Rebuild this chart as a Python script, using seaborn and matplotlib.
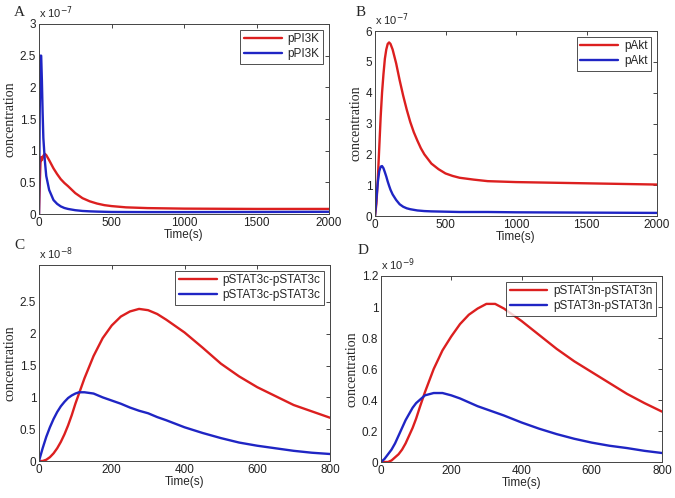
"""
four-panel concentration time courses, matlab look
"""

import matplotlib as mpl
import matplotlib.pyplot as plt
import numpy as np
import pandas as pd
import seaborn as sns

sns.set_style("white")
mpl.rcParams["font.family"] = ["Liberation Sans", "DejaVu Sans"]
mpl.rcParams["xtick.direction"] = "in"
mpl.rcParams["ytick.direction"] = "in"

RED = "#dc1f1f"
BLUE = "#1f25c4"

# panel A: pPI3K (x 1e-7)
a_t = [0, 5, 10, 15, 20, 25, 30, 40, 50, 70, 100, 125, 150, 175, 200, 250, 300, 350, 400, 450, 500, 600, 750, 1000, 1500, 2000]
a_red = [0, 0.45, 0.8, 0.9, 0.85, 0.88, 0.92, 0.95, 0.93, 0.85, 0.72, 0.63, 0.55, 0.49, 0.44, 0.33, 0.25, 0.2, 0.165, 0.14, 0.125, 0.105, 0.093, 0.085, 0.08, 0.08]
a_blue = [0, 1.6, 2.5, 2.5, 2.1, 1.6, 1.2, 0.85, 0.6, 0.38, 0.22, 0.16, 0.12, 0.095, 0.08, 0.06, 0.048, 0.042, 0.038, 0.035, 0.032, 0.031, 0.03, 0.03, 0.032, 0.035]

# panel B: pAkt (x 1e-7)
b_t = [0, 10, 20, 30, 40, 50, 60, 70, 80, 90, 100, 110, 125, 150, 175, 200, 225, 250, 275, 300, 325, 350, 400, 450, 500, 550, 600, 700, 800, 1000, 1500, 2000]
b_red = [0, 0.4, 1.2, 2.2, 3.2, 4.0, 4.6, 5.1, 5.4, 5.58, 5.63, 5.58, 5.4, 4.95, 4.4, 3.9, 3.45, 3.05, 2.72, 2.45, 2.2, 2.0, 1.7, 1.52, 1.38, 1.3, 1.24, 1.18, 1.13, 1.1, 1.06, 1.02]
b_blue = [0, 0.55, 1.1, 1.45, 1.6, 1.62, 1.55, 1.42, 1.28, 1.12, 0.98, 0.85, 0.7, 0.52, 0.38, 0.3, 0.25, 0.22, 0.2, 0.18, 0.17, 0.16, 0.15, 0.145, 0.14, 0.135, 0.13, 0.13, 0.13, 0.12, 0.11, 0.1]

# panel C: pSTAT3c-pSTAT3c (x 1e-8)
c_t = [0, 10, 20, 30, 40, 50, 60, 70, 80, 90, 100, 110, 125, 150, 175, 200, 225, 250, 275, 300, 325, 350, 400, 450, 500, 550, 600, 650, 700, 750, 800]
c_red = [0, 0, 0.02, 0.06, 0.12, 0.2, 0.3, 0.42, 0.56, 0.72, 0.9, 1.06, 1.3, 1.65, 1.93, 2.13, 2.27, 2.35, 2.39, 2.37, 2.31, 2.22, 2.02, 1.78, 1.53, 1.33, 1.16, 1.02, 0.88, 0.78, 0.68]
c_blue = [0, 0.2, 0.38, 0.53, 0.66, 0.77, 0.86, 0.93, 0.99, 1.03, 1.06, 1.08, 1.08, 1.06, 1.0, 0.95, 0.9, 0.84, 0.79, 0.75, 0.69, 0.64, 0.53, 0.44, 0.36, 0.29, 0.24, 0.2, 0.16, 0.13, 0.11]

# panel D: pSTAT3n-pSTAT3n (x 1e-9)
d_t = [0, 10, 20, 30, 40, 50, 60, 70, 80, 90, 100, 110, 125, 150, 175, 200, 225, 250, 275, 300, 325, 350, 400, 450, 500, 550, 600, 650, 700, 750, 800]
d_red = [0, 0, 0, 0.01, 0.03, 0.05, 0.08, 0.12, 0.17, 0.22, 0.28, 0.35, 0.45, 0.6, 0.72, 0.81, 0.89, 0.95, 0.99, 1.02, 1.02, 0.99, 0.91, 0.82, 0.73, 0.65, 0.58, 0.51, 0.44, 0.38, 0.325]
d_blue = [0, 0.02, 0.05, 0.08, 0.12, 0.17, 0.22, 0.27, 0.31, 0.35, 0.38, 0.4, 0.43, 0.445, 0.445, 0.43, 0.41, 0.385, 0.36, 0.34, 0.32, 0.3, 0.255, 0.215, 0.18, 0.15, 0.125, 0.105, 0.09, 0.072, 0.058]

panels = [
    ("A", a_t, a_red, a_blue, "pPI3K", -7, 2000, 500, 3.0, np.arange(0, 3.01, 0.5)),
    ("B", b_t, b_red, b_blue, "pAkt", -7, 2000, 500, 6.0, np.arange(0, 6.01, 1)),
    ("C", c_t, c_red, c_blue, "pSTAT3c-pSTAT3c", -8, 800, 200, 3.08, np.arange(0, 2.51, 0.5)),
    ("D", d_t, d_red, d_blue, "pSTAT3n-pSTAT3n", -9, 800, 200, 1.2, np.arange(0, 1.21, 0.2)),
]

# axes boxes in pixels: left, top, right, bottom
boxes = [(39, 24, 329, 214), (375, 31, 657, 216), (39, 265, 330, 461), (381, 276, 662, 462)]
letters_xy = [(14, 13), (356, 13), (14, 245), (358, 250)]

W, H = 675, 498
fig = plt.figure(figsize=(W / 100, H / 100), dpi=100)
fig.patch.set_facecolor("white")

for (name, t, red, blue, lab, exp, xmax, xstep, ymax, yt), box, lxy in zip(panels, boxes, letters_xy):
    l, tp, r, b = box
    ax = fig.add_axes([l / W, 1 - b / H, (r - l) / W, (b - tp) / H])
    df = pd.DataFrame({"t": t, "red": red, "blue": blue})
    sns.lineplot(data=df, x="t", y="red", color=RED, lw=1.7, label=lab, ax=ax)
    sns.lineplot(data=df, x="t", y="blue", color=BLUE, lw=1.7, label=lab, ax=ax)
    ax.set_xlim(0, xmax)
    ax.set_ylim(0, ymax)
    ax.set_xticks(np.arange(0, xmax + 1, xstep))
    ax.set_yticks(yt)
    ax.set_yticklabels([f"{round(v, 2):g}" for v in yt])
    ax.tick_params(labelsize=8.5, length=3, width=0.6, top=True, right=True, pad=2,
                   labelcolor="#222222")
    for sp in ax.spines.values():
        sp.set_visible(True)
        sp.set_color("#444444")
        sp.set_linewidth(0.7)
    ax.set_xlabel("Time(s)", fontsize=8.5, labelpad=0)
    ax.set_ylabel("concentration", fontsize=10, family="Liberation Serif", labelpad=2)
    ax.text(0.0, 1.015, r"x 10$^{%d}$" % exp, transform=ax.transAxes, fontsize=8,
            ha="left", va="bottom")
    leg = ax.legend(loc="upper right", fontsize=8.5, handlelength=3.2, frameon=True,
                    fancybox=False, borderaxespad=0.5, borderpad=0.3, labelspacing=0.25,
                    handletextpad=0.5)
    leg.get_frame().set_edgecolor("#222222")
    leg.get_frame().set_linewidth(0.7)
    fig.text(lxy[0] / W, 1 - lxy[1] / H, name, fontsize=11, family="Liberation Serif",
             ha="left", va="center")

fig.savefig("out.png", dpi=100)
